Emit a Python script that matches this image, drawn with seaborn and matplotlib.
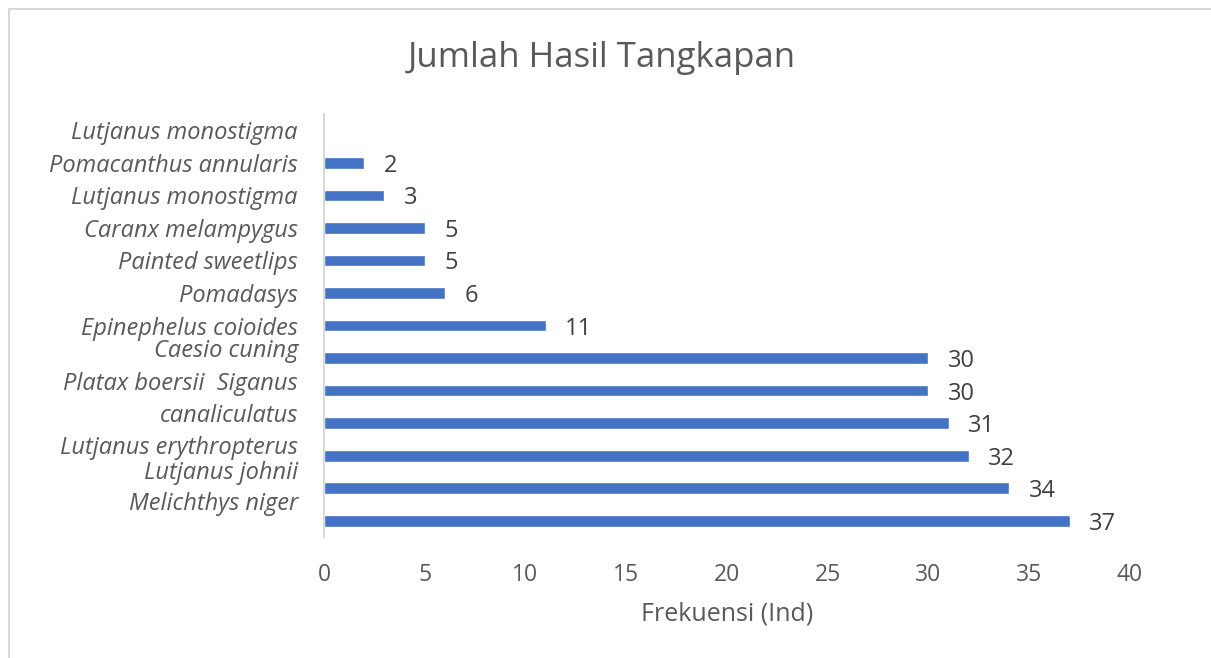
import numpy as np
import pandas as pd
import matplotlib
matplotlib.use("Agg")
import matplotlib.pyplot as plt
import seaborn as sns
from matplotlib.patches import Rectangle
from matplotlib.transforms import ScaledTranslation

# data (top to bottom, as in the chart)
species = ["Lutjanus monostigma", "Pomacanthus annularis", "Lutjanus monostigma",
           "Caranx melampygus", "Painted sweetlips", "Pomadasys",
           "Epinephelus coioides", "Caesio cuning", "Platax boersii  Siganus\ncanaliculatus",
           "Lutjanus erythropterus", "Lutjanus johnii", "Melichthys niger", ""]
counts = [np.nan, 2, 3, 5, 5, 6, 11, 30, 30, 31, 32, 34, 37]
xticks = [0, 5, 10, 15, 20, 25, 30, 35, 40]

# the category labels in the original are not quite level with the bars (px, + = down)
label_nudge = [3, 3, 3, 3, 3, 3, 3, -7, 9, 25, 17, 16, 3]

sns.set_theme(style="white")
plt.rcParams['font.family'] = ['Open Sans', 'DejaVu Sans']

df = pd.DataFrame({"pos": range(len(counts)), "count": counts})

fig = plt.figure(figsize=(12.11, 6.58), dpi=100)
ax = fig.add_axes([0.2675, 0.1839, 0.6656, 0.6428])

sns.barplot(data=df, x="count", y="pos", orient="h", order=list(range(len(counts))),
            color="#4472C4", saturation=1, width=0.36, ax=ax)

cont = ax.containers[0]
lbls = [f"{v:g}" if np.isfinite(v) else "" for v in cont.datavalues]
txts = ax.bar_label(cont, labels=lbls, padding=14, fontsize=17, color="#404040")
for t in txts:
    t.set_va("center_baseline")

ax.set_xlim(0, 40)
ax.set_ylim(len(counts) - 0.5, -0.5)
ax.set_xticks(xticks)
ax.set_yticks([])

# category labels, drawn as text at each category position
for i, (name, dy) in enumerate(zip(species, label_nudge)):
    tr = ax.get_yaxis_transform() + ScaledTranslation(-26 / 100, -dy / 100, fig.dpi_scale_trans)
    ax.text(0, i, name, transform=tr, ha="right", va="center", fontstyle="italic",
            fontsize=17, color="#595959", linespacing=1.45, multialignment="right")

ax.tick_params(axis="x", length=0, pad=19, labelsize=16.5, labelcolor="#595959")

for s in ["top", "right", "bottom"]:
    ax.spines[s].set_visible(False)
ax.spines["left"].set_color("#D9D9D9")
ax.spines["left"].set_linewidth(1.5)

ax.set_ylabel("")
ax.set_xlabel("Frekuensi (Ind)", fontsize=18, color="#595959", labelpad=10)
fig.text(0.497, 0.912, "Jumlah Hasil Tangkapan", ha="center", va="center",
         fontsize=25, color="#595959")

# chart border
fig.patches.append(Rectangle((9 / 1211, -0.1), 1.2, (658 - 9) / 658 + 0.1,
                             transform=fig.transFigure, fill=False,
                             edgecolor="#D9D9D9", linewidth=1.5))

fig.savefig("out.png", dpi=100)
